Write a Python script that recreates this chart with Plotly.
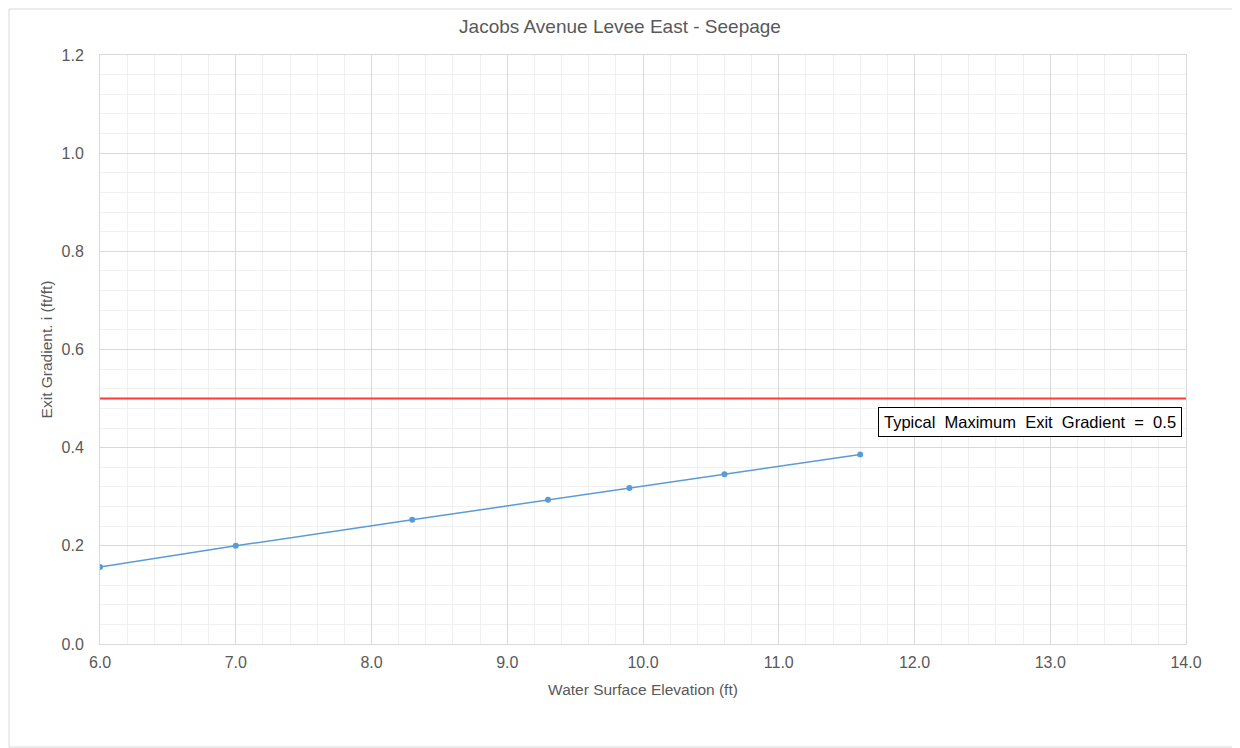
import plotly.graph_objects as go

x_wse = [6.0, 7.0, 8.3, 9.3, 9.9, 10.6, 11.6]
y_grad = [0.157, 0.200, 0.253, 0.294, 0.318, 0.346, 0.386]
limit_x = [6.0, 14.0]
limit_y = [0.5, 0.5]
x_ticks = [6, 7, 8, 9, 10, 11, 12, 13, 14]
y_ticks = [0.0, 0.2, 0.4, 0.6, 0.8, 1.0, 1.2]

FONT = "Liberation Sans, Arial, sans-serif"
GRAY = "#595959"

# page is drawn with an 8px offset; margins compensate
L, T, PW, PH = 92, 47, 1086, 589

fig = go.Figure()
fig.add_trace(go.Scatter(x=limit_x, y=limit_y, mode="lines",
                         line=dict(color="#ff3b3b", width=2), showlegend=False, hoverinfo="skip"))
fig.add_trace(go.Scatter(x=x_wse, y=y_grad, mode="lines+markers",
                         line=dict(color="#5b9bd5", width=1.5),
                         marker=dict(color="#5b9bd5", size=6), showlegend=False))

fig.update_layout(
    width=1240, height=748,
    margin=dict(l=L, r=1240 - L - PW, t=T, b=748 - T - PH),
    paper_bgcolor="white", plot_bgcolor="white",
    font=dict(family=FONT, color=GRAY, size=16),
    title=dict(text="Jacobs Avenue Levee East - Seepage", x=(620 - 8) / 1240, xanchor="center",
               y=1 - 18 / 748, yanchor="middle", font=dict(size=19, color=GRAY)),
    xaxis=dict(range=[6, 14], tickvals=x_ticks, ticktext=[f"{v:.1f}" for v in x_ticks],
               showgrid=True, gridcolor="#d9d9d9", gridwidth=1,
               minor=dict(dtick=0.2, showgrid=True, gridcolor="#f0f0f0", gridwidth=1),
               showline=True, linecolor="#d9d9d9", linewidth=1, mirror=True,
               zeroline=False, ticks="", ticklabelstandoff=4,
               title=dict(text="Water Surface Elevation (ft)", font=dict(size=15.5, color=GRAY), standoff=13),
               tickfont=dict(size=16, color=GRAY)),
    yaxis=dict(range=[0, 1.2], tickvals=y_ticks, ticktext=[f"{v:.1f}" for v in y_ticks],
               showgrid=True, gridcolor="#d9d9d9", gridwidth=1,
               minor=dict(dtick=0.04, showgrid=True, gridcolor="#f0f0f0", gridwidth=1),
               showline=True, linecolor="#d9d9d9", linewidth=1, mirror=True,
               zeroline=False, ticks="", ticklabelstandoff=12,
               title=dict(text="Exit Gradient. i (ft/ft)", font=dict(size=15.5, color=GRAY), standoff=5),
               tickfont=dict(size=16, color=GRAY)),
    annotations=[dict(x=12.85, y=0.452, xref="x", yref="y",
                      text="Typical  Maximum  Exit  Gradient  =  0.5", showarrow=False,
                      font=dict(size=16.5, color="#000000", family=FONT),
                      bordercolor="#000000", borderwidth=1, borderpad=5, bgcolor="white")],
    shapes=[dict(type="rect", xref="paper", yref="paper",
                 x0=(9 - 100) / PW, x1=(1237 - 100) / PW,
                 y0=(644 - 747) / PH, y1=(644 - 9) / PH,
                 line=dict(color="#d9d9d9", width=1), layer="below")],
)

fig.write_html("out.html")
